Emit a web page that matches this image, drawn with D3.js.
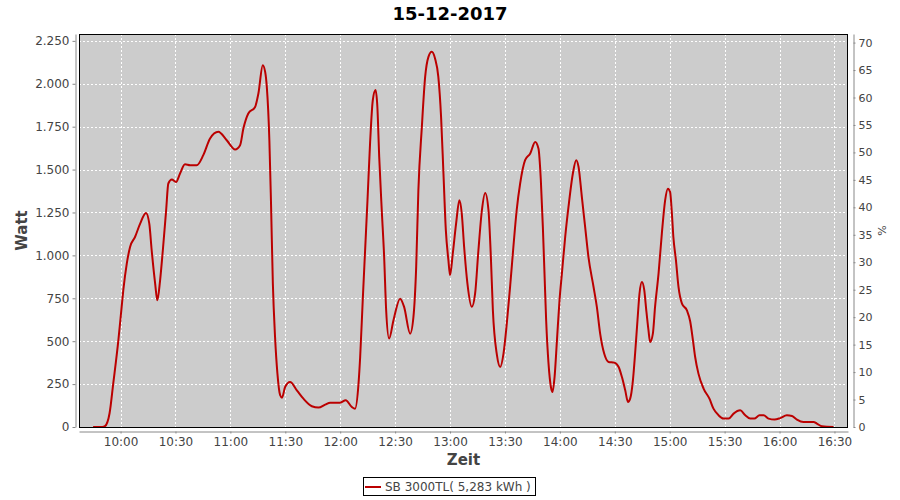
<!DOCTYPE html>
<html>
<head>
<meta charset="utf-8">
<script src="https://cdn.jsdelivr.net/npm/d3@7"></script>
<style>
  body { margin: 0; background: #fff; }
  svg { display: block; font-family: 'DejaVu Sans', sans-serif; }
</style>
</head>
<body>
<svg id="chart" width="900" height="500"></svg>
<script>
// Zeit in Minuten seit Mitternacht, Leistung in Watt
var zeitMin = [585, 590, 591.5, 594, 596, 598.8, 600.6, 601.5, 603.4, 605.2, 607.9, 610.7, 613.9, 615.7, 617, 618.9, 620.1, 621.6, 623.1, 624.9, 626.1, 628, 630.3, 632.5, 635.2, 638, 641.6, 645.2, 648.9, 653.4, 658, 662.6, 665.3, 667.1, 669.8, 673.5, 675.3, 677.7, 679, 679.9, 681.3, 682.2, 683.2, 684.4, 685.7, 687.2, 688.2, 689.9, 692.6, 696.3, 699.9, 704.5, 708.1, 711.8, 714.5, 720, 723, 726.3, 728.1, 730, 730.9, 732.3, 733.6, 734.9, 736.3, 737.8, 739.3, 740.3, 741.3, 742.7, 744, 745.1, 746.7, 749.1, 752.7, 754.9, 758.2, 760, 761.5, 762.7, 764.6, 766.4, 768.2, 770, 771.8, 773.6, 775.1, 776.4, 777.7, 779.1, 780, 781.5, 783.3, 785.1, 786.4, 787.7, 789.5, 791.9, 793.7, 795.5, 797.4, 799.2, 801, 802.3, 803.4, 805.6, 807.4, 809.2, 811, 812.8, 814.6, 816.4, 818.3, 821, 823.8, 826.5, 828.3, 829.6, 830.7, 831.6, 832.5, 833.8, 835.1, 836, 837.1, 838.4, 839.8, 841.1, 842.9, 844.7, 847.1, 848.9, 850.2, 852, 853.8, 855.6, 858.4, 860.2, 862, 864.2, 866.6, 869.7, 872.1, 873.9, 875.7, 877.2, 878.4, 879.9, 881.1, 882.4, 883.5, 884.8, 886.1, 887.2, 888.4, 889.3, 890.8, 892, 893.9, 895.7, 897.5, 899, 900.2, 901.2, 902, 903.4, 904.8, 906.7, 909.4, 911.2, 912.7, 913.9, 915.7, 918.5, 921.7, 923.9, 926.7, 929.4, 932.2, 934.9, 938.5, 941.3, 944, 946.2, 949.1, 951.3, 954, 957.3, 960.4, 964, 966.8, 969.5, 973.1, 978.6, 980.4, 983.2, 989.5]
var watt = [0, 0, 5, 80, 253, 505, 700, 797, 952, 1049, 1107, 1185, 1247, 1185, 1030, 836, 738, 855, 1030, 1263, 1419, 1442, 1428, 1477, 1531, 1525, 1525, 1584, 1681, 1720, 1671, 1617, 1642, 1739, 1827, 1865, 1943, 2108, 2069, 1982, 1671, 1302, 836, 525, 311, 185, 171, 233, 262, 214, 165, 121, 113, 130, 142, 142, 156, 117, 107, 253, 408, 738, 1030, 1321, 1652, 1904, 1963, 1865, 1574, 1263, 991, 680, 515, 622, 748, 700, 544, 641, 933, 1380, 1749, 2040, 2157, 2186, 2147, 2040, 1807, 1477, 1147, 972, 884, 1011, 1185, 1321, 1244, 1049, 836, 700, 778, 1030, 1263, 1364, 1263, 991, 680, 420, 350, 428, 603, 816, 1049, 1263, 1419, 1555, 1594, 1661, 1623, 1438, 1166, 894, 622, 369, 233, 204, 291, 505, 738, 894, 1107, 1282, 1477, 1555, 1516, 1341, 1166, 991, 816, 700, 544, 428, 379, 375, 350, 291, 214, 146, 165, 272, 428, 622, 778, 845, 797, 680, 564, 495, 544, 700, 894, 1127, 1321, 1389, 1370, 1244, 1107, 972, 816, 719, 680, 615, 505, 408, 311, 224, 165, 107, 68, 49, 49, 78, 97, 68, 49, 49, 68, 68, 49, 43, 52, 68, 64, 43, 29, 29, 20, 4, 0]

var xTicks = ['10:00', '10:30', '11:00', '11:30', '12:00', '12:30', '13:00', '13:30', '14:00', '14:30', '15:00', '15:30', '16:00', '16:30']
var wattTicks = [0, 250, 500, 750, 1000, 1250, 1500, 1750, 2000, 2250]
var prozentTicks = [0, 5, 10, 15, 20, 25, 30, 35, 40, 45, 50, 55, 60, 65, 70]

var title = '15-12-2017'
var seriesName = 'SB 3000TL( 5,283 kWh )'

var svg = d3.select('#chart')
var plot = { left: 79, right: 848, top: 34, bottom: 427 }

var day = new Date(2017, 11, 15)
function toDate (m) { return new Date(day.getTime() + m * 60000) }
function parseHM (s) {
  var p = s.split(':')
  return toDate(+p[0] * 60 + +p[1])
}

var data = zeitMin.map(function (m, i) { return { t: toDate(m), w: watt[i] } })

var x = d3.scaleTime()
  .domain([toDate(577.3), toDate(997.4)])
  .range([plot.left, plot.right])
var y = d3.scaleLinear()
  .domain([0, 2290])
  .range([plot.bottom, plot.top])
// Prozent-Achse rechts: 70 % liegt knapp unter 2.250 W
var y2 = d3.scaleLinear()
  .domain([0, 2290 / 2240 * 70])
  .range([plot.bottom, plot.top])

var fmtDe = function (v) { return d3.format(',')(v).replace(/,/g, '.') }

// plot background
svg.append('rect')
  .attr('x', plot.left).attr('y', plot.top)
  .attr('width', plot.right - plot.left).attr('height', plot.bottom - plot.top)
  .attr('fill', '#cccccc')

// grid
var grid = svg.append('g')
  .attr('stroke', '#ffffff').attr('stroke-width', 1).attr('stroke-dasharray', '2,2')
grid.selectAll('.gy').data(wattTicks.slice(1)).enter().append('line')
  .attr('x1', plot.left).attr('x2', plot.right)
  .attr('y1', function (d) { return Math.round(y(d)) + 0.5 })
  .attr('y2', function (d) { return Math.round(y(d)) + 0.5 })
grid.selectAll('.gx').data(xTicks).enter().append('line')
  .attr('y1', plot.top).attr('y2', plot.bottom)
  .attr('x1', function (d) { return Math.round(x(parseHM(d))) + 0.5 })
  .attr('x2', function (d) { return Math.round(x(parseHM(d))) + 0.5 })

// line
var line = d3.line()
  .x(function (d) { return x(d.t) })
  .y(function (d) { return y(d.w) })
  .curve(d3.curveMonotoneX)
svg.append('path')
  .datum(data)
  .attr('fill', 'none')
  .attr('stroke', '#bb0000')
  .attr('stroke-width', 2)
  .attr('d', line)

// plot border
svg.append('rect')
  .attr('x', plot.left + 0.5).attr('y', plot.top + 0.5)
  .attr('width', plot.right - plot.left - 1).attr('height', plot.bottom - plot.top)
  .attr('fill', 'none').attr('stroke', '#000').attr('stroke-width', 1)

function styleAxis (g, size) {
  g.select('.domain').attr('stroke', '#888')
  g.selectAll('.tick line').attr('stroke', '#888')
  g.selectAll('.tick text')
    .attr('fill', '#444')
    .style('font-size', size + 'px')
    .style('font-family', "'DejaVu Sans', sans-serif")
}

// left axis
var gLeft = svg.append('g').attr('transform', 'translate(75.5,0)')
  .call(d3.axisLeft(y).tickValues(wattTicks).tickFormat(fmtDe).tickSize(3).tickSizeOuter(0).tickPadding(3))
styleAxis(gLeft, 12)

// right axis
var gRight = svg.append('g').attr('transform', 'translate(853.5,0)')
  .call(d3.axisRight(y2).tickValues(prozentTicks).tickSize(2).tickSizeOuter(0).tickPadding(3))
styleAxis(gRight, 11)

// bottom axis
var gBottom = svg.append('g').attr('transform', 'translate(0,431.5)')
  .call(d3.axisBottom(x).tickValues(xTicks.map(parseHM)).tickFormat(d3.timeFormat('%H:%M')).tickSize(2).tickSizeOuter(0).tickPadding(4))
styleAxis(gBottom, 12)

// title
svg.append('text')
  .attr('x', 450).attr('y', 20)
  .attr('text-anchor', 'middle')
  .style('font-size', '18px').style('font-weight', 'bold')
  .attr('fill', '#000')
  .text(title)

// axis labels
svg.append('text')
  .attr('transform', 'translate(27,' + ((plot.top + plot.bottom) / 2) + ') rotate(-90)')
  .attr('text-anchor', 'middle')
  .style('font-size', '15px').style('font-weight', 'bold')
  .attr('fill', '#444')
  .text('Watt')
svg.append('text')
  .attr('x', (plot.left + plot.right) / 2).attr('y', 465)
  .attr('text-anchor', 'middle')
  .style('font-size', '15px').style('font-weight', 'bold')
  .attr('fill', '#444')
  .text('Zeit')
svg.append('text')
  .attr('transform', 'translate(886,' + ((plot.top + plot.bottom) / 2) + ') rotate(-90)')
  .attr('text-anchor', 'middle')
  .style('font-size', '11px')
  .attr('fill', '#444')
  .text('%')

// legend
var legend = svg.append('g')
legend.append('rect')
  .attr('x', 363.5).attr('y', 477.5).attr('width', 172).attr('height', 18)
  .attr('fill', '#fff').attr('stroke', '#000')
legend.append('line')
  .attr('x1', 365).attr('x2', 381).attr('y1', 487).attr('y2', 487)
  .attr('stroke', '#bb0000').attr('stroke-width', 2)
legend.append('text')
  .attr('x', 385).attr('y', 491)
  .style('font-size', '12px')
  .attr('fill', '#444')
  .text(seriesName)
</script>
</body>
</html>
